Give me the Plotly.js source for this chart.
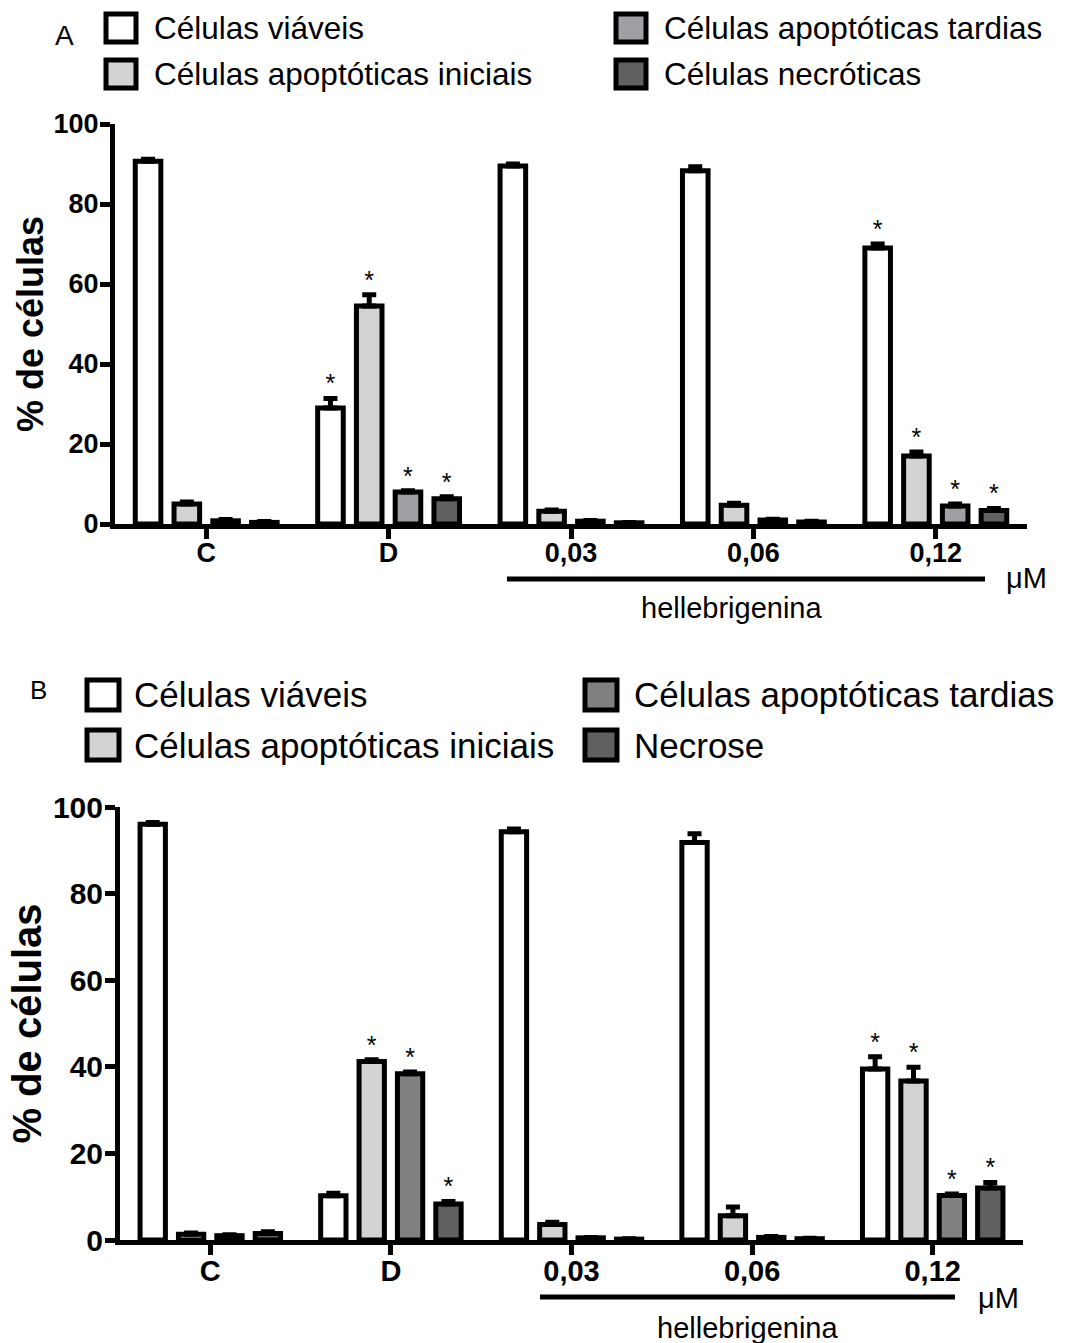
<!DOCTYPE html>
<html><head><meta charset="utf-8">
<script src="https://cdn.plot.ly/plotly-3.0.1.min.js"></script>
<style>body{margin:0;background:#fff}#chart{width:1067px;height:1343px}</style>
</head><body><div id="chart"></div>
<script>
// ---------- DATA ----------
const categories = ["C", "D", "0,03", "0,06", "0,12"];

const namesA = ["Células viáveis", "Células apoptóticas iniciais", "Células apoptóticas tardias", "Células necróticas"];
const namesB = ["Células viáveis", "Células apoptóticas iniciais", "Células apoptóticas tardias", "Necrose"];

// Panel A (mean, SEM)
const viableA   = [90.7, 29.0, 89.5, 88.3, 69.0];
const viableErrA = [0.5, 2.4, 0.5, 1.0, 1.0];
const earlyA    = [5.0, 54.5, 3.2, 4.7, 17.0];
const earlyErrA = [0.5, 2.8, 0.3, 0.5, 1.0];
const lateA     = [0.8, 8.0, 0.7, 1.0, 4.5];
const lateErrA  = [0.3, 0.3, 0.2, 0.2, 0.5];
const necA      = [0.4, 6.3, 0.3, 0.5, 3.4];
const necErrA   = [0.2, 0.5, 0.1, 0.2, 0.5];
const sigA = [
  [false, true, false, false, true],
  [false, true, false, false, true],
  [false, true, false, false, true],
  [false, true, false, false, true]
];

// Panel B (mean, SEM)
const viableB    = [96.0, 10.2, 94.3, 91.8, 39.5];
const viableErrB = [0.4, 0.6, 0.6, 2.0, 2.8];
const earlyB     = [1.3, 41.2, 3.6, 5.6, 36.7];
const earlyErrB  = [0.3, 0.4, 0.5, 2.0, 3.2];
const lateB      = [1.0, 38.4, 0.5, 0.6, 10.3];
const lateErrB   = [0.2, 0.4, 0.1, 0.2, 0.3];
const necB       = [1.5, 8.3, 0.2, 0.3, 12.0];
const necErrB    = [0.4, 0.6, 0.1, 0.1, 1.3];
const sigB = [
  [false, false, false, false, true],
  [false, true, false, false, true],
  [false, true, false, false, true],
  [false, true, false, false, true]
];

const yTicks = [0, 20, 40, 60, 80, 100];
const yTitle = "% de células";
const groupLabel = "hellebrigenina";
const unitLabel = "μM";

// ---------- STYLE ----------
const colorsA = ["#ffffff", "#d3d3d3", "#a0a0a4", "#606060"];
const colorsB = ["#ffffff", "#d3d3d3", "#808080", "#606060"];
const FONT = "'Liberation Sans', Arial, sans-serif";
const W = 1067, H = 1343;
const px = x => x / W;
const py = y => 1 - y / H;

const valsA = [viableA, earlyA, lateA, necA];
const errsA = [viableErrA, earlyErrA, lateErrA, necErrA];
const valsB = [viableB, earlyB, lateB, necB];
const errsB = [viableErrB, earlyErrB, lateErrB, necErrB];

const traces = [];
function addPanel(vals, errs, sig, names, colors, xa, ya) {
  vals.forEach((v, i) => {
    traces.push({
      type: "bar", x: categories, y: v, name: names[i],
      xaxis: xa, yaxis: ya, offsetgroup: "g" + i, showlegend: false,
      marker: {color: colors[i], line: {color: "#000", width: 5}},
      error_y: {type: "data", symmetric: false, array: errs[i],
                arrayminus: v.map(() => 0), color: "#000", thickness: 5, width: 7},
      hoverinfo: "skip"
    });
  });
  vals.forEach((v, i) => {
    traces.push({
      type: "scatter", mode: "text", x: categories,
      y: v.map((val, k) => sig[i][k] ? val + errs[i][k] : null),
      text: v.map((val, k) => sig[i][k] ? "*" : ""),
      textposition: "top center",
      textfont: {family: FONT, size: 25, color: "#000"},
      xaxis: xa, yaxis: ya, offsetgroup: "g" + i, orientation: "v",
      showlegend: false, hoverinfo: "skip", cliponaxis: false
    });
  });
}
addPanel(valsA, errsA, sigA, namesA, colorsA, "x", "y");
addPanel(valsB, errsB, sigB, namesB, colorsB, "x2", "y2");

function xAxis(dom, anchor, fs) {
  return {domain: dom, anchor: anchor, type: "category", range: [-0.5, 4.5],
    showline: true, linewidth: 5, linecolor: "#000", ticks: "outside", ticklen: 10,
    tickwidth: 5, tickcolor: "#000", showgrid: false, zeroline: false, fixedrange: true,
    ticklabelstandoff: -9,
    tickfont: {family: FONT, size: fs, weight: "bold", color: "#000"}};
}
function yAxis(dom, anchor, fs, tfs) {
  return {domain: dom, anchor: anchor, range: [0, 100], tickvals: yTicks,
    showline: true, linewidth: 5, linecolor: "#000", ticks: "outside", ticklen: 10,
    tickwidth: 5, tickcolor: "#000", showgrid: false, zeroline: false, fixedrange: true,
    ticklabelstandoff: -4,
    tickfont: {family: FONT, size: fs, weight: "bold", color: "#000"},
    title: {text: yTitle, standoff: 0, font: {family: FONT, size: tfs, weight: "bold", color: "#000"}}};
}

const shapes = [], annotations = [];
function legend(names, colors, x1, x2, r1, r2, textX1, textX2, bw, bh, fs) {
  names.forEach((n, i) => {
    const col = Math.floor(i / 2), row = i % 2;
    const cx = col ? x2 : x1, cy = row ? r2 : r1;
    shapes.push({type: "rect", xref: "paper", yref: "paper",
      x0: px(cx - bw / 2), x1: px(cx + bw / 2), y0: py(cy + bh / 2), y1: py(cy - bh / 2),
      fillcolor: colors[i], line: {color: "#000", width: 5}});
    annotations.push({xref: "paper", yref: "paper", x: px(col ? textX2 : textX1), y: py(cy),
      xanchor: "left", yanchor: "middle", showarrow: false, text: n,
      font: {family: FONT, size: fs, color: "#000"}});
  });
}
legend(namesA, colorsA, 121, 631, 28, 74, 152, 662, 30, 28, 31.5);
legend(namesB, colorsB, 103, 601, 695, 745, 132, 632, 32, 30, 35);

function bracket(x0, x1, y, ux, uy, lx, ly, fs) {
  shapes.push({type: "line", xref: "paper", yref: "paper", x0: px(x0), x1: px(x1),
    y0: py(y), y1: py(y), line: {color: "#000", width: 5}});
  annotations.push({xref: "paper", yref: "paper", x: px(ux), y: py(uy), xanchor: "left",
    yanchor: "middle", showarrow: false, text: unitLabel, font: {family: FONT, size: fs, color: "#000"}});
  annotations.push({xref: "paper", yref: "paper", x: px(lx), y: py(ly), xanchor: "center",
    yanchor: "middle", showarrow: false, text: groupLabel, font: {family: FONT, size: fs, color: "#000"}});
}
bracket(507, 985, 579, 1004, 578, 732, 608, 29);
bracket(540, 955, 1297, 976, 1298, 747, 1328, 29);

annotations.push({xref: "paper", yref: "paper", x: px(64), y: py(35), xanchor: "center", yanchor: "middle",
  showarrow: false, text: "A", font: {family: FONT, size: 28, color: "#000"}});
annotations.push({xref: "paper", yref: "paper", x: px(38), y: py(690), xanchor: "center", yanchor: "middle",
  showarrow: false, text: "B", font: {family: FONT, size: 26, color: "#000"}});

const layout = {
  width: W, height: H, margin: {l: 0, r: 0, t: 0, b: 0},
  paper_bgcolor: "#fff", plot_bgcolor: "#fff", showlegend: false,
  barmode: "group", bargap: 0.15, bargroupgap: 0.34,
  scattermode: "group", scattergap: 0.15,
  font: {family: FONT, color: "#000"},
  xaxis: xAxis([px(115), px(1027)], "y", 27),
  yaxis: yAxis([py(524), py(124)], "x", 27, 36),
  xaxis2: xAxis([px(120), px(1023)], "y2", 29),
  yaxis2: yAxis([py(1240), py(807)], "x2", 30, 40),
  shapes: shapes, annotations: annotations
};
Plotly.newPlot("chart", traces, layout, {displayModeBar: false, staticPlot: true});
</script></body></html>
